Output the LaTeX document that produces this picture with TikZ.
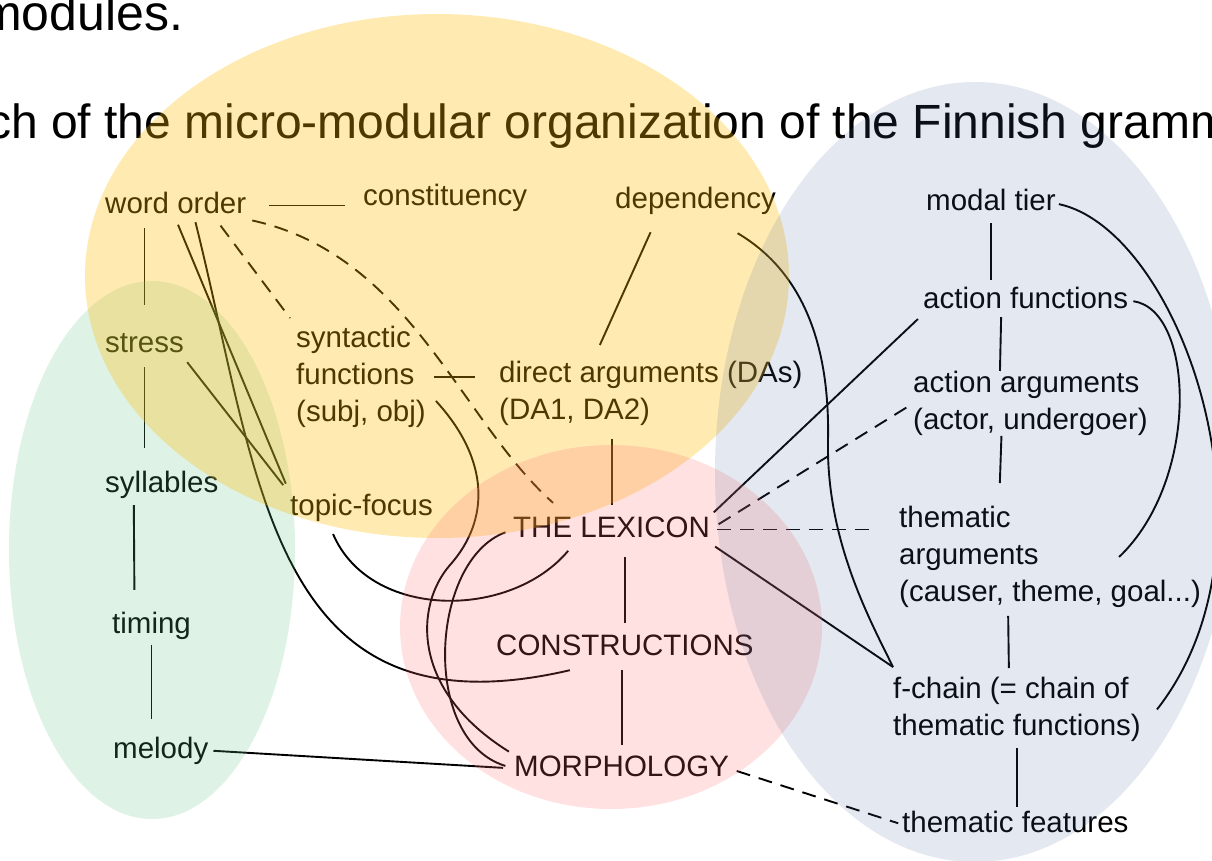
\documentclass[tikz,border=0pt]{standalone}
\usepackage{fontspec}
\setmainfont{Liberation Sans}
\usepackage{tikz}
\definecolor{yelmod}{RGB}{255,188,0}
\definecolor{grnmod}{RGB}{90,190,130}
\definecolor{pnkmod}{RGB}{255,105,105}
\definecolor{grymod}{RGB}{75,102,155}

\begin{document}
\begin{tikzpicture}[x=1pt, y=-1pt,
                    lbl/.style={font=\fontsize{29.5}{37}\selectfont, inner sep=0pt, text height=21pt, text depth=6pt, anchor=base west},
                    mlbl/.style={font=\fontsize{29.5}{37}\selectfont, inner sep=0pt, align=left, anchor=north west},
                    ttl/.style={font=\fontsize{48}{58}\selectfont, inner sep=0pt, anchor=base west},
                    link/.style={line width=1.9pt},
                    dlink/.style={link, dash pattern=on 14pt off 9pt},
                    module/.style={fill opacity=#1}]
                    \useasboundingbox (0,0) rectangle (1212,861);
                    \node [ttl, font=\fontsize{50}{60}\selectfont] (t1) at (-20,31) {modules.};
                    \node [ttl] (t2) at (-13,139) {ch of the micro-modular organization of the Finnish gramm};
                    \node [lbl] (wo) at (105,213) {word order};
                    \node [lbl] (con) at (363,206) {constituency};
                    \node [lbl] (dep) at (615,208) {dependency};
                    \node [lbl] (mt) at (926,211) {modal tier};
                    \node [lbl] (st) at (105,352) {stress};
                    \node [mlbl] (syn) at (296,326) {syntactic\\functions\\(subj, obj)};
                    \node [mlbl] (da) at (499,361) {direct arguments (DAs)\\(DA1, DA2)};
                    \node [lbl] (af) at (923,308) {action functions};
                    \node [mlbl] (aa) at (913,371) {action arguments\\(actor, undergoer)};
                    \node [lbl] (syl) at (105,492) {syllables};
                    \node [lbl] (tf) at (290,515) {topic-focus};
                    \node [lbl] (lex) at (513,537) {THE LEXICON};
                    \node [mlbl] (ta) at (899,506) {thematic\\arguments\\(causer, theme, goal...)};
                    \node [lbl] (tim) at (112,633) {timing};
                    \node [lbl] (cx) at (496,655) {CONSTRUCTIONS};
                    \node [mlbl] (fc) at (893,677) {f-chain (= chain of\\thematic functions)};
                    \node [lbl] (mel) at (113,758) {melody};
                    \node [lbl] (mor) at (514,776) {MORPHOLOGY};
                    \node [lbl] (tfe) at (902,832) {thematic features};
                    \draw [link, shorten <=23pt, shorten >=18pt] (wo.east) -- (wo.east -| con.west);
                    \draw [link, shorten <=9pt, shorten >=26pt] (st.north |- wo.south) -- (st.north);
                    \draw [link, shorten <=6pt, shorten >=11pt] (wo.south) -- (tf.north west);
                    \draw [link, shorten <=3pt] ([xshift=19pt]wo.south) .. controls (260,480) and (270,740) .. ([xshift=-55pt,yshift=-9pt]cx.south);
                    \draw [dlink, shorten <=8pt, shorten >=10pt] ([xshift=40pt]wo.south) -- (syn.north west);
                    \draw [dlink, shorten <=6pt] (wo.south east) .. controls (410,255) and (460,420) .. ([xshift=40pt,yshift=13pt]lex.north west);
                    \draw [link, shorten <=5pt, shorten >=11pt] (st.south east) -- (tf.north west);
                    \draw [link, shorten <=9pt, shorten >=23pt] (st.south) -- (st.south |- syl.north);
                    \draw [link, shorten <=7pt, shorten >=22pt] ([xshift=-28pt]syl.south) -- ([xshift=-17pt]tim.north);
                    \draw [link, shorten <=6pt, shorten >=18pt] (tim.south) -- (tim.south |- mel.north);
                    \draw [link, shorten <=5pt, shorten >=11pt] (mel.east) -- (mor.west);
                    \draw [link, shorten <=8pt, shorten >=24pt] (syn.east) -- (syn.east -| da.west);
                    \draw [link, shorten >=6pt] ([xshift=10pt,yshift=-24pt]syn.east) .. controls (490,460) and (490,520) .. (450,565) .. controls (415,605) and (410,690) .. (mor.north west);
                    \draw [link] ([xshift=-45pt,yshift=-18pt]dep.south) -- ([xshift=-51pt,yshift=16pt]da.north);
                    \draw [link] ([xshift=42pt,yshift=-19pt]dep.south) .. controls (800,270) and (830,340) .. (828,440) .. controls (826,540) and (870,620) .. ([yshift=10pt]fc.north west);
                    \draw [link, shorten <=13pt, shorten >=11pt] (lex.north |- da.south) -- (lex.north);
                    \draw [link, shorten <=5pt, shorten >=7pt] (lex.north east) -- (af.south west);
                    \draw [dlink, shorten <=10pt, shorten >=3pt] (lex.east) -- (aa.west);
                    \draw [dlink, shorten <=7pt, shorten >=24pt] (lex.east) -- (lex.east -| ta.west);
                    \draw [link, shorten <=6pt] (lex.south east) -- ([yshift=10pt]fc.north west);
                    \draw [link, shorten <=14pt, shorten >=11pt] (cx.north |- lex.south) -- (cx.north);
                    \draw [link, shorten <=9pt, shorten >=10pt] (cx.south -| mor.north) -- (mor.north);
                    \draw [link, shorten <=8pt, shorten >=9pt] (lex.west) .. controls (430,560) and (420,740) .. (mor.west);
                    \draw [link, shorten <=14pt, shorten >=10pt] ([xshift=-34pt]tf.south) .. controls (370,620) and (510,620) .. ([xshift=-37pt]lex.south);
                    \draw [dlink, shorten <=8pt, shorten >=4pt] (mor.east) -- (tfe.west);
                    \draw [link, shorten <=6pt, shorten >=7pt] (mt.south) -- (mt.south |- af.north);
                    \draw [link, shorten <=3pt] ([xshift=-24.5pt]af.south) -- ([xshift=-30.5pt]aa.north);
                    \draw [link, shorten >=23pt] ([xshift=-29pt]aa.south) -- ([xshift=-51pt]ta.north);
                    \draw [link, shorten <=8pt, shorten >=9pt] ([xshift=-42pt]ta.south) -- ([xshift=-8pt]fc.north);
                    \draw [link, shorten <=6pt, shorten >=4pt] (fc.south) -- (fc.south |- tfe.north);
                    \draw [link, shorten <=3pt] (mt.east) .. controls (1180,230) and (1290,540) .. ([xshift=16pt]fc.east);
                    \draw [link, shorten <=5pt] (af.east) .. controls (1195,310) and (1200,480) .. ([xshift=-82pt]ta.east);
                    \fill [module=0.2, grnmod] (152,550) ellipse [x radius=143pt, y radius=269pt];
                    \fill [module=0.3, yelmod] (437,276) ellipse [x radius=352pt, y radius=262pt];
                    \fill [module=0.2, pnkmod] (611,627) ellipse [x radius=211pt, y radius=182pt];
                    \fill [module=0.15, grymod] (975,472) ellipse [x radius=260pt, y radius=390pt];
                \end{tikzpicture}
\end{document}
